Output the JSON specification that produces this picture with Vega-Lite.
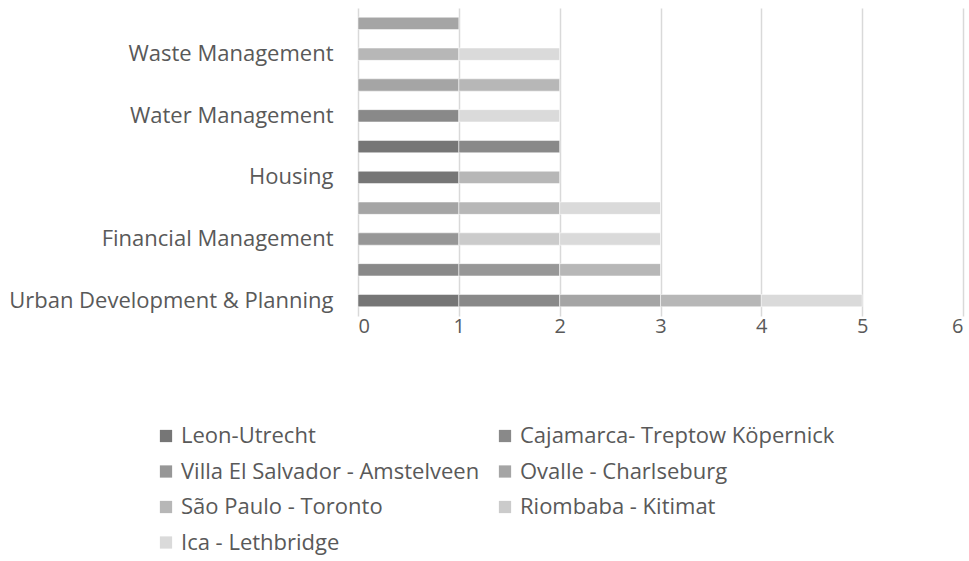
{
  "$schema": "https://vega.github.io/schema/vega-lite/v6.json",
  "autosize": "none",
  "width": 605,
  "height": 308,
  "padding": {"left": 358, "top": 8, "right": 6, "bottom": 245},
  "background": "white",
  "data": {
    "values": [
      {"cat": "Urban Development & Planning", "series": "Leon-Utrecht", "k": 1, "v": 1},
      {"cat": "Urban Development & Planning", "series": "Cajamarca- Treptow Köpernick", "k": 2, "v": 1},
      {"cat": "Urban Development & Planning", "series": "Ovalle - Charlseburg", "k": 4, "v": 1},
      {"cat": "Urban Development & Planning", "series": "São Paulo - Toronto", "k": 5, "v": 1},
      {"cat": "Urban Development & Planning", "series": "Ica - Lethbridge", "k": 7, "v": 1},
      {"cat": "_2", "series": "Cajamarca- Treptow Köpernick", "k": 2, "v": 1},
      {"cat": "_2", "series": "Villa El Salvador - Amstelveen", "k": 3, "v": 1},
      {"cat": "_2", "series": "São Paulo - Toronto", "k": 5, "v": 1},
      {"cat": "Financial Management", "series": "Villa El Salvador - Amstelveen", "k": 3, "v": 1},
      {"cat": "Financial Management", "series": "Riombaba - Kitimat", "k": 6, "v": 1},
      {"cat": "Financial Management", "series": "Ica - Lethbridge", "k": 7, "v": 1},
      {"cat": "_4", "series": "Ovalle - Charlseburg", "k": 4, "v": 1},
      {"cat": "_4", "series": "São Paulo - Toronto", "k": 5, "v": 1},
      {"cat": "_4", "series": "Ica - Lethbridge", "k": 7, "v": 1},
      {"cat": "Housing", "series": "Leon-Utrecht", "k": 1, "v": 1},
      {"cat": "Housing", "series": "São Paulo - Toronto", "k": 5, "v": 1},
      {"cat": "_6", "series": "Leon-Utrecht", "k": 1, "v": 1},
      {"cat": "_6", "series": "Cajamarca- Treptow Köpernick", "k": 2, "v": 1},
      {"cat": "Water Management", "series": "Cajamarca- Treptow Köpernick", "k": 2, "v": 1},
      {"cat": "Water Management", "series": "Ica - Lethbridge", "k": 7, "v": 1},
      {"cat": "_8", "series": "Ovalle - Charlseburg", "k": 4, "v": 1},
      {"cat": "_8", "series": "São Paulo - Toronto", "k": 5, "v": 1},
      {"cat": "Waste Management", "series": "São Paulo - Toronto", "k": 5, "v": 1},
      {"cat": "Waste Management", "series": "Ica - Lethbridge", "k": 7, "v": 1},
      {"cat": "_10", "series": "Ovalle - Charlseburg", "k": 4, "v": 1}
    ]
  },
  "mark": {"type": "bar", "stroke": "white", "strokeWidth": 0.5},
  "encoding": {
    "y": {
      "field": "cat",
      "type": "nominal",
      "sort": ["_10", "Waste Management", "_8", "Water Management", "_6", "Housing", "_4", "Financial Management", "_2", "Urban Development & Planning"],
      "scale": {"paddingInner": 0.6, "paddingOuter": 0.3},
      "axis": {
        "title": null,
        "ticks": false,
        "domain": false,
        "labelPadding": 25,
        "labelFont": "Open Sans",
        "labelFontSize": 22,
        "labelColor": "#595959",
        "labelLimit": 400,
        "labelExpr": "test(/^_/, datum.value) ? '' : datum.value"
      }
    },
    "x": {
      "field": "v",
      "type": "quantitative",
      "aggregate": "sum",
      "stack": "zero",
      "scale": {"domain": [0, 6]},
      "axis": {
        "title": null,
        "values": [0, 1, 2, 3, 4, 5, 6],
        "grid": true,
        "gridColor": "#d9d9d9",
        "gridWidth": 1.5,
        "ticks": false,
        "domain": false,
        "labelPadding": 0,
        "labelFont": "Open Sans",
        "labelFontSize": 20,
        "labelColor": "#595959"
      }
    },
    "order": {"field": "k", "type": "quantitative"},
    "color": {
      "field": "series",
      "type": "nominal",
      "scale": {
        "domain": ["Leon-Utrecht", "Villa El Salvador - Amstelveen", "São Paulo - Toronto", "Ica - Lethbridge", "Cajamarca- Treptow Köpernick", "Ovalle - Charlseburg", "Riombaba - Kitimat"],
        "range": ["#767676", "#979797", "#b7b7b7", "#dadada", "#898989", "#a5a5a5", "#cbcbcb"]
      },
      "legend": {
        "title": null,
        "orient": "none",
        "legendX": -203,
        "legendY": 417,
        "columns": 2,
        "columnPadding": 14,
        "rowPadding": 13.5,
        "symbolType": "square",
        "symbolSize": 150,
        "symbolStrokeWidth": 0,
        "labelFont": "Open Sans",
        "labelFontSize": 22,
        "labelColor": "#595959",
        "labelLimit": 400,
        "labelOffset": 4
      }
    }
  },
  "config": {"view": {"stroke": null}}
}
